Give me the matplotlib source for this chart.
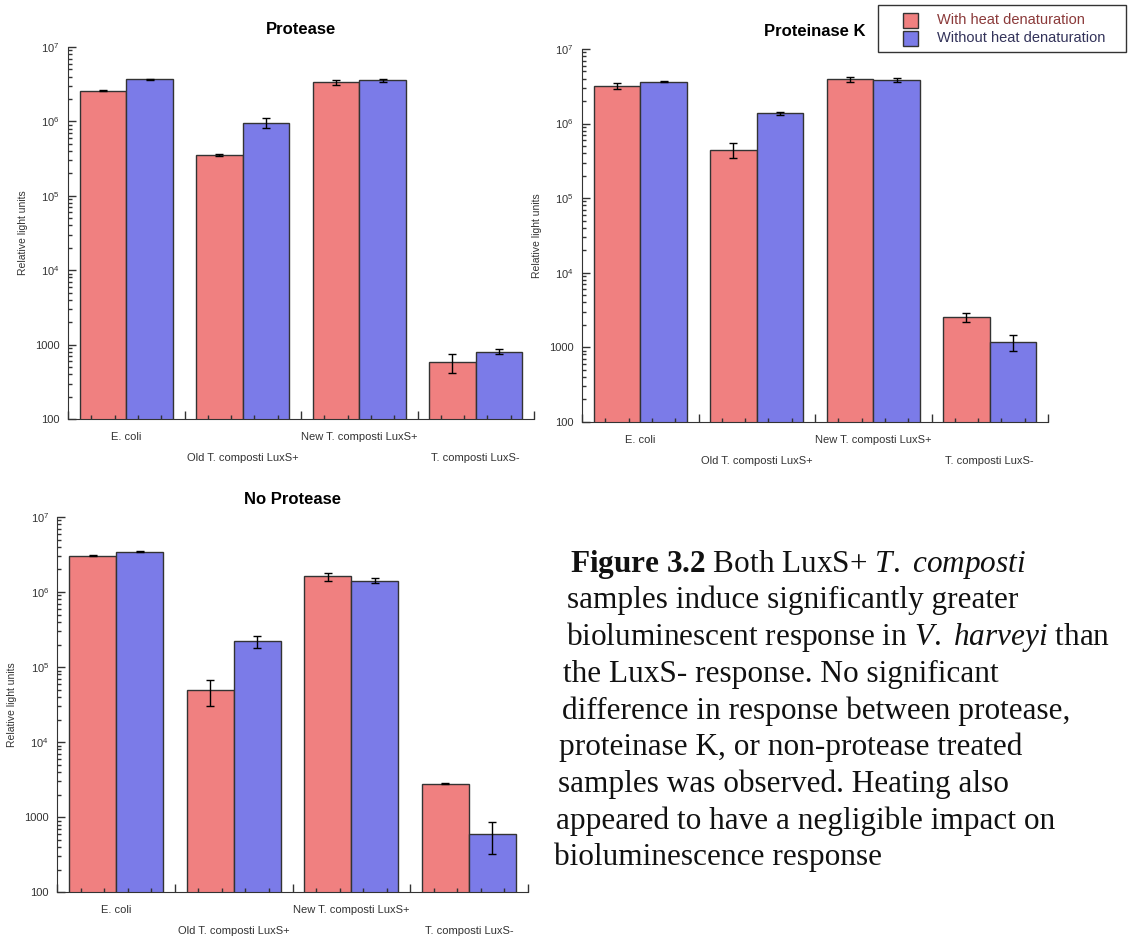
import numpy as np
import matplotlib
matplotlib.use("Agg")
import matplotlib.pyplot as plt
from matplotlib.ticker import FixedLocator, FuncFormatter, LogLocator, NullFormatter

plt.rcParams['font.family'] = ['Liberation Sans', 'DejaVu Sans']
plt.rcParams['mathtext.fontset'] = 'custom'
plt.rcParams['mathtext.rm'] = 'Liberation Serif'
plt.rcParams['mathtext.it'] = 'Liberation Serif:italic'
plt.rcParams['mathtext.bf'] = 'Liberation Serif:bold'
plt.rcParams['mathtext.sf'] = 'Liberation Sans'

groups = ["E. coli", "Old T. composti LuxS+", "New T. composti LuxS+", "T. composti LuxS-"]
series = ["With heat denaturation", "Without heat denaturation"]

protease_heat = [2.6e6, 3.5e5, 3.35e6, 586]
protease_heat_err = [6e4, 1e4, 2.7e5, 165]
protease_noheat = [3.7e6, 9.6e5, 3.55e6, 805]
protease_noheat_err = [5e4, 1.4e5, 1.8e5, 65]

protk_heat = [3.2e6, 4.45e5, 3.92e6, 2550]
protk_heat_err = [2.8e5, 1.05e5, 3e5, 350]
protk_noheat = [3.65e6, 1.37e6, 3.84e6, 1180]
protk_noheat_err = [5e4, 6e4, 2.5e5, 290]

noprot_heat = [3.05e6, 4.9e4, 1.62e6, 2810]
noprot_heat_err = [6e4, 1.9e4, 2e5, 50]
noprot_noheat = [3.45e6, 2.2e5, 1.42e6, 590]
noprot_noheat_err = [3e4, 4e4, 1.1e5, 270]

red = '#F08080'
blue = '#7B7BE8'
W, H = 1128, 938


def box(l, r, t, b):
    return [l / W, 1 - b / H, (r - l) / W, (b - t) / H]


def logfmt(v, pos):
    e = int(round(np.log10(v)))
    if e <= 3:
        return str(int(round(v)))
    return r'$\mathsf{10^{%d}}$' % e


def panel(rect, title, heat, heat_err, noheat, noheat_err):
    ax = fig.add_axes(rect)
    x = np.arange(len(groups))
    ax.bar(x + 0.1, heat, 0.4, align='edge', color=red, edgecolor='#333333', linewidth=1)
    ax.bar(x + 0.5, noheat, 0.4, align='edge', color=blue, edgecolor='#333333', linewidth=1)
    ax.errorbar(x + 0.3, heat, yerr=heat_err, fmt='none', ecolor='black', elinewidth=1, capsize=3)
    ax.errorbar(x + 0.7, noheat, yerr=noheat_err, fmt='none', ecolor='black', elinewidth=1, capsize=3)
    ax.set_yscale('log')
    ax.set_ylim(100, 1e7)
    ax.set_xlim(0, len(groups))
    ax.yaxis.set_major_locator(FixedLocator([1e2, 1e3, 1e4, 1e5, 1e6, 1e7]))
    ax.yaxis.set_major_formatter(FuncFormatter(logfmt))
    ax.yaxis.set_minor_locator(LogLocator(base=10, subs=np.arange(2, 10)))
    ax.yaxis.set_minor_formatter(NullFormatter())
    ax.xaxis.set_major_locator(FixedLocator(np.arange(len(groups) + 1)))
    ax.xaxis.set_minor_locator(FixedLocator(np.arange(0, len(groups), 0.2)))
    ax.set_xticklabels([])
    ax.tick_params(axis='both', which='major', direction='in', length=6, width=1,
                   color='#333333', labelsize=8, labelcolor='#333333')
    ax.tick_params(axis='both', which='minor', direction='in', length=3, width=1, color='#333333')
    ax.tick_params(axis='y', pad=6)
    for s in ['top', 'right']:
        ax.spines[s].set_visible(False)
    for s in ['left', 'bottom']:
        ax.spines[s].set_color('#333333')
    ax.set_ylabel('Relative light units', fontsize=7.5, color='#333333')
    ax.yaxis.set_label_coords(-0.085, 0.5)
    ax.set_title(title, fontsize=12, fontweight='bold', pad=9)
    for i, g in enumerate(groups):
        off = -13 if i % 2 == 0 else -28
        ax.annotate(g, xy=(i + 0.5, 0), xycoords=('data', 'axes fraction'),
                    xytext=(0, off), textcoords='offset points',
                    ha='center', va='center', fontsize=8, color='#333333')
    return ax


fig = plt.figure(figsize=(W / 100, H / 100), dpi=100)

panel(box(68, 534, 47, 419), 'Protease',
      protease_heat, protease_heat_err, protease_noheat, protease_noheat_err)
panel(box(582, 1048, 49, 421.7), 'Proteinase K',
      protk_heat, protk_heat_err, protk_noheat, protk_noheat_err)
panel(box(57.3, 527.7, 517, 892.3), 'No Protease',
      noprot_heat, noprot_heat_err, noprot_noheat, noprot_noheat_err)

# legend
lx0, ly0, lx1, ly1 = 877.7, 4.7, 1125.7, 52.3
fig.patches.append(plt.Rectangle((lx0 / W, 1 - ly1 / H), (lx1 - lx0) / W, (ly1 - ly0) / H,
                                 transform=fig.transFigure, facecolor='white',
                                 edgecolor='#333333', linewidth=1))
for k, (lab, col, tcol) in enumerate([(series[0], red, '#8B3A3A'), (series[1], blue, '#33335A')]):
    yt = 12.7 + k * 18
    fig.patches.append(plt.Rectangle((903.3 / W, 1 - (yt + 15) / H), 15 / W, 15 / H,
                                     transform=fig.transFigure, facecolor=col,
                                     edgecolor='#333333', linewidth=1))
    fig.text(936.7 / W, 1 - (yt + 7.5) / H, lab, fontsize=10.5, color=tcol,
             ha='left', va='center')

# caption
caption = [
    (570, r"$\mathbf{Figure\ 3.2}$ Both LuxS+ $\mathit{T.}$ $\mathit{composti}$"),
    (567, "samples induce significantly greater"),
    (566, r"bioluminescent response in $\mathit{V.}$ $\mathit{harveyi}$ than"),
    (563, "the LuxS- response. No significant"),
    (562, "difference in response between protease,"),
    (559, "proteinase K, or non-protease treated"),
    (558, "samples was observed. Heating also"),
    (556, "appeared to have a negligible impact on"),
    (554, "bioluminescence response"),
]
for k, (xp, line) in enumerate(caption):
    fig.text(xp / W, 1 - (571.7 + 36.7 * k) / H, line, fontsize=22.5,
             family='Liberation Serif', ha='left', va='baseline', color='#111111')

fig.savefig('out.png', dpi=100, facecolor='white')
